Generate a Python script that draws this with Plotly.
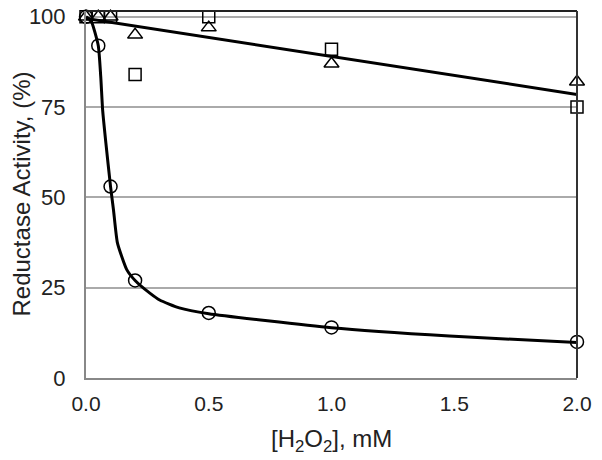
import plotly.graph_objects as go

# measured points
conc = [0, 0.05, 0.1, 0.2, 0.5, 1.0, 2.0]
circles = [100, 92, 53, 27, 18, 14, 10]
squares = [100, 100, 100, 84, 100, 91, 75]
triangles = [100, 100, 100, 95, 97, 87, 82]

# fitted curve for circles
fit_x = [0, 0.02, 0.05, 0.06, 0.068, 0.081, 0.1, 0.112, 0.128, 0.166, 0.2, 0.26, 0.3, 0.38, 0.5, 1.0, 1.48, 2.0]
fit_y = [100, 99, 92, 83.5, 74, 65, 53, 46.5, 37.4, 30, 27, 23.5, 21.6, 19.4, 17.8, 13.9, 11.6, 9.8]

# linear trend for squares / triangles
lin_x = [0, 2.0]
lin_y = [99.5, 78.5]

x_ticks = [0, 0.5, 1.0, 1.5, 2.0]
y_ticks = [0, 25, 50, 75, 100]

fig = go.Figure()
fig.add_trace(go.Scatter(x=fit_x, y=fit_y, mode="lines", cliponaxis=False,
                         line=dict(color="black", width=3, shape="spline", smoothing=0.5)))
fig.add_trace(go.Scatter(x=lin_x, y=lin_y, mode="lines", cliponaxis=False,
                         line=dict(color="black", width=3)))
fig.add_trace(go.Scatter(x=conc, y=circles, mode="markers", cliponaxis=False,
                         marker=dict(symbol="circle-open", size=13, color="black", line=dict(width=1.5))))
fig.add_trace(go.Scatter(x=conc, y=squares, mode="markers", cliponaxis=False,
                         marker=dict(symbol="square-open", size=12, color="black", line=dict(width=1.5))))
fig.add_trace(go.Scatter(x=conc, y=triangles, mode="markers", cliponaxis=False,
                         marker=dict(symbol="triangle-up-open", size=13, color="black", line=dict(width=1.5))))

fig.update_layout(
    width=602, height=460,
    margin=dict(l=86, r=25, t=11, b=82),
    plot_bgcolor="white", paper_bgcolor="white",
    showlegend=False,
    font=dict(family="Liberation Sans, Arial", size=22, color="#222"),
    xaxis=dict(range=[0, 2.0], tickvals=x_ticks, ticktext=["0.0", "0.5", "1.0", "1.5", "2.0"],
               showgrid=False, zeroline=False, showline=True, linecolor="#888", linewidth=2,
               ticks="", automargin=False, tickfont=dict(size=21), ticklabelstandoff=6,
               ticklabeloverflow="allow"),
    yaxis=dict(range=[0, 101.6], tickvals=y_ticks, showgrid=True, gridcolor="#aaa", gridwidth=2,
               zeroline=False, showline=True, linecolor="#888", linewidth=2, ticks="",
               automargin=False, tickfont=dict(size=22), ticklabelstandoff=14,
               ticklabeloverflow="allow"),
    annotations=[
        dict(text="[H<sub>2</sub>O<sub>2</sub>], mM", xref="paper", yref="paper", x=0.5, y=0,
             xanchor="center", yanchor="middle", yshift=-62, showarrow=False, font=dict(size=24)),
        dict(text="Reductase Activity, (%)", xref="paper", yref="paper", x=0, y=0.5,
             xanchor="center", yanchor="middle", xshift=-65, yshift=0, textangle=-90,
             showarrow=False, font=dict(size=24)),
    ],
    shapes=[
        dict(type="line", xref="paper", yref="paper", x0=0, x1=1, y0=1, y1=1,
             line=dict(color="#222", width=2)),
        dict(type="line", xref="paper", yref="paper", x0=1, x1=1, y0=0, y1=1,
             line=dict(color="#333", width=2)),
    ],
)

# drop the default 8px page margin so the figure sits at the top-left corner
fig.write_html("out.html", config={"displayModeBar": False},
               post_script="document.body.style.margin='0px';")
